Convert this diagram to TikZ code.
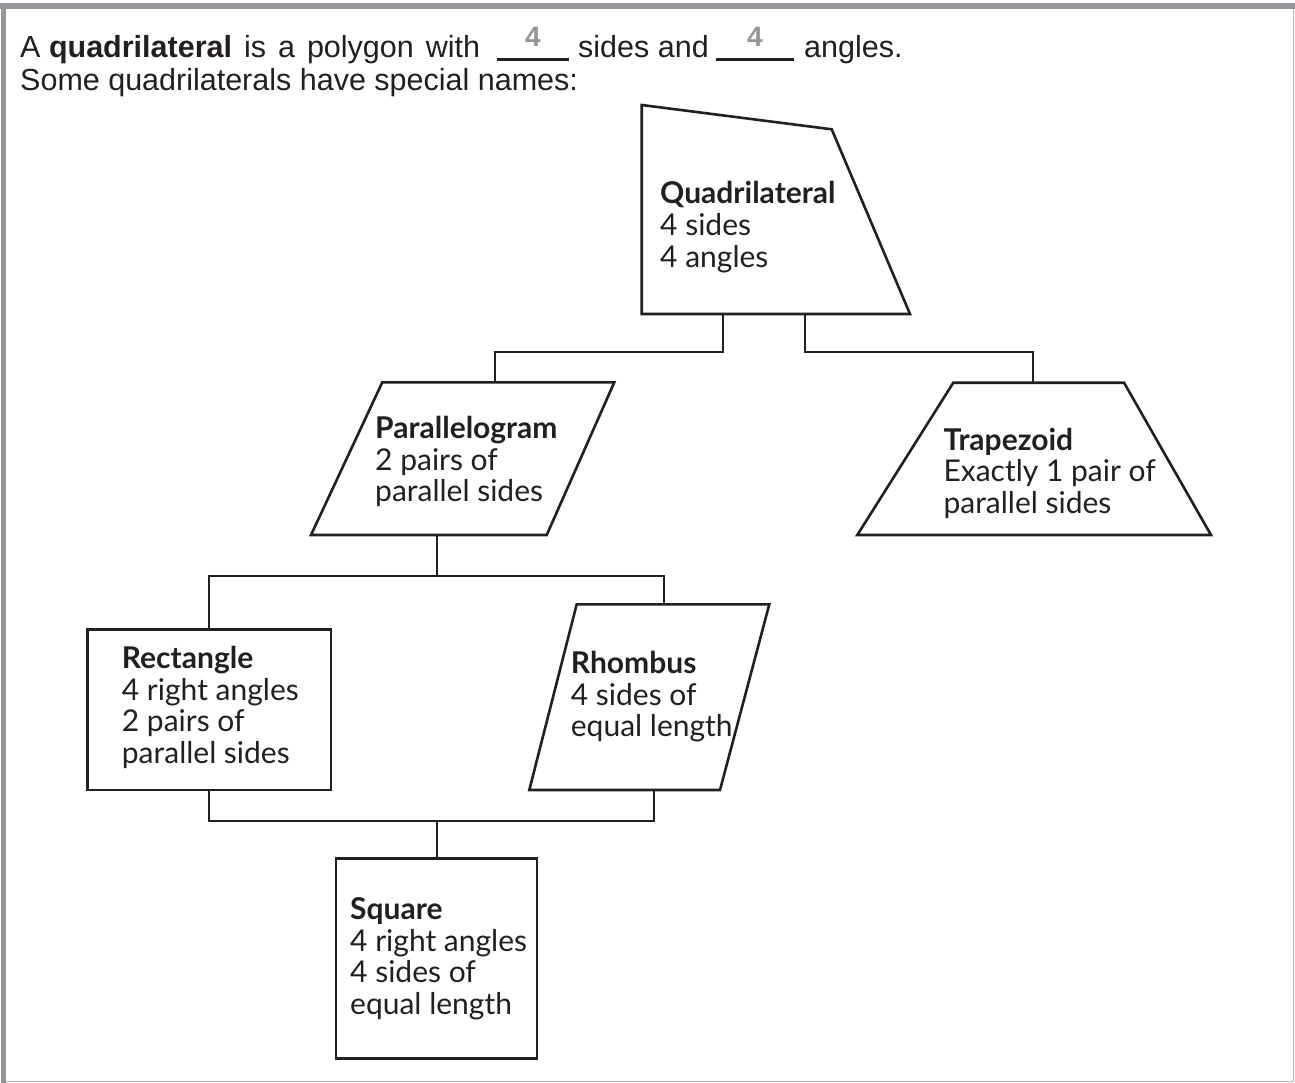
\documentclass[tikz,border=0pt]{standalone}
\usepackage{fontspec}
\setmainfont{Liberation Sans}
\newfontfamily\diafont{Lato}
\definecolor{ink}{HTML}{231F20}
\definecolor{framegray}{HTML}{939598}
\definecolor{numgray}{HTML}{939598}
\newcommand\wsp{\hspace{12pt}}
\begin{document}
\begin{tikzpicture}[x=1pt,y=-1pt,
  shapeline/.style={draw=ink, line width=2.6pt, line join=miter},
  conn/.style={draw=ink, line width=1.7pt},
  uline/.style={draw=ink, line width=2.4pt},
  lbl/.style={anchor=base west, inner sep=0pt, text=ink, font=\diafont\fontsize{30}{31.7}\selectfont},
  head/.style={anchor=base west, inner sep=0pt, text=ink, font=\fontsize{30.5}{33}\selectfont},
  num/.style={anchor=base, inner sep=0pt, text=numgray, font=\fontsize{28}{28}\selectfont\bfseries}]
\useasboundingbox (0,0) rectangle (1295,1083);
\fill[white] (0,0) rectangle (1295,1083);
% frame
\fill[framegray] (0,3.5) rectangle (1295,9.5);
\fill[framegray] (1,3.5) rectangle (6,1083);
\draw[framegray!70, line width=1.5pt] (6,1081.5) -- (1293.5,1081.5) -- (1293.5,9.5);
% heading
\node[head] (h1a) at (20,58) {A \textbf{quadrilateral}\wsp is\wsp a\wsp polygon\wsp with};
\coordinate (b1l) at (497,59.5); \coordinate (b1r) at (569,59.5);
\draw[uline] (b1l) -- (b1r);
\node[num] (n1) at (533,47) {4};
\node[head] (h1b) at (578,58) {sides and};
\coordinate (b2l) at (716,59.5); \coordinate (b2r) at (794,59.5);
\draw[uline] (b2l) -- (b2r);
\node[num] (n2) at (755,47) {4};
\node[head] (h1c) at (804,58) {angles.};
\node[head] (h2) at (20,91) {Some quadrilaterals have special names:};
% shape corners
\coordinate (Q1) at (641.7,105);  \coordinate (Q2) at (831.7,129.3);
\coordinate (Q3) at (910,314);    \coordinate (Q4) at (641.7,314);
\coordinate (P1) at (382.3,382.3); \coordinate (P2) at (614.3,382.3);
\coordinate (P3) at (546.7,535);   \coordinate (P4) at (311,535);
\coordinate (T1) at (953.3,382.7); \coordinate (T2) at (1124,382.7);
\coordinate (T3) at (1211,535);    \coordinate (T4) at (857.3,535);
\coordinate (R1) at (87.7,629.3);  \coordinate (R3) at (331,790);
\coordinate (H1) at (576.7,604.3); \coordinate (H2) at (769.3,604.3);
\coordinate (H3) at (720,790);     \coordinate (H4) at (529.3,790);
\coordinate (S1) at (336,858.3);   \coordinate (S3) at (537,1058.3);
% connector ports
\coordinate (Qa) at (723.3,314);  \coordinate (Qb) at (805,314);
\coordinate (Pt) at (495,382.3);  \coordinate (Tt) at (1032.7,382.7);
\coordinate (Pb) at (436.7,535);
\coordinate (Rt) at (209,629.3);  \coordinate (Ht) at (664.3,604.3);
\coordinate (Rb) at (209,790);    \coordinate (Hb) at (654,790);
\coordinate (St) at (436.7,858.3);
% connectors
\draw[conn] (Qa) -- ++(0,37.7) -| (Pt);
\draw[conn] (Qb) -- ++(0,37.7) -| (Tt);
\draw[conn] (Pb) -- ++(0,41) coordinate (Pj);
\draw[conn] (Pj) -| (Rt);
\draw[conn] (Pj) -| (Ht);
\draw[conn] (Rb) -- ++(0,31) -| (St);
\draw[conn] (Hb) -- ++(0,31) -| (St);
% shapes
\draw[shapeline] (Q1) -- (Q2) -- (Q3) -- (Q4) -- cycle;
\draw[shapeline] (P1) -- (P2) -- (P3) -- (P4) -- cycle;
\draw[shapeline] (T1) -- (T2) -- (T3) -- (T4) -- cycle;
\draw[shapeline] (R1) rectangle (R3);
\draw[shapeline] (H1) -- (H2) -- (H3) -- (H4) -- cycle;
\draw[shapeline] (S1) rectangle (S3);
% labels
\node[lbl] (quadtxt) at (660,204) {\parbox[t]{320pt}{\textbf{Quadrilateral}\\4 sides\\4 angles}};
\node[lbl] (paratxt) at (375,438.3) {\parbox[t]{320pt}{\textbf{Parallelogram}\\2 pairs of\\parallel sides}};
\node[lbl] (traptxt) at (943.3,450) {\parbox[t]{320pt}{\textbf{Trapezoid}\\Exactly 1 pair of\\parallel sides}};
\node[lbl] (recttxt) at (121.7,668.3) {\parbox[t]{320pt}{\textbf{Rectangle}\\4 right angles\\2 pairs of\\parallel sides}};
\node[lbl] (rhomtxt) at (570.7,673.3) {\parbox[t]{320pt}{\textbf{Rhombus}\\4 sides of\\equal length}};
\node[lbl] (sqtxt) at (350,919.3) {\parbox[t]{320pt}{\textbf{Square}\\4 right angles\\4 sides of\\equal length}};
\end{tikzpicture}
\end{document}
